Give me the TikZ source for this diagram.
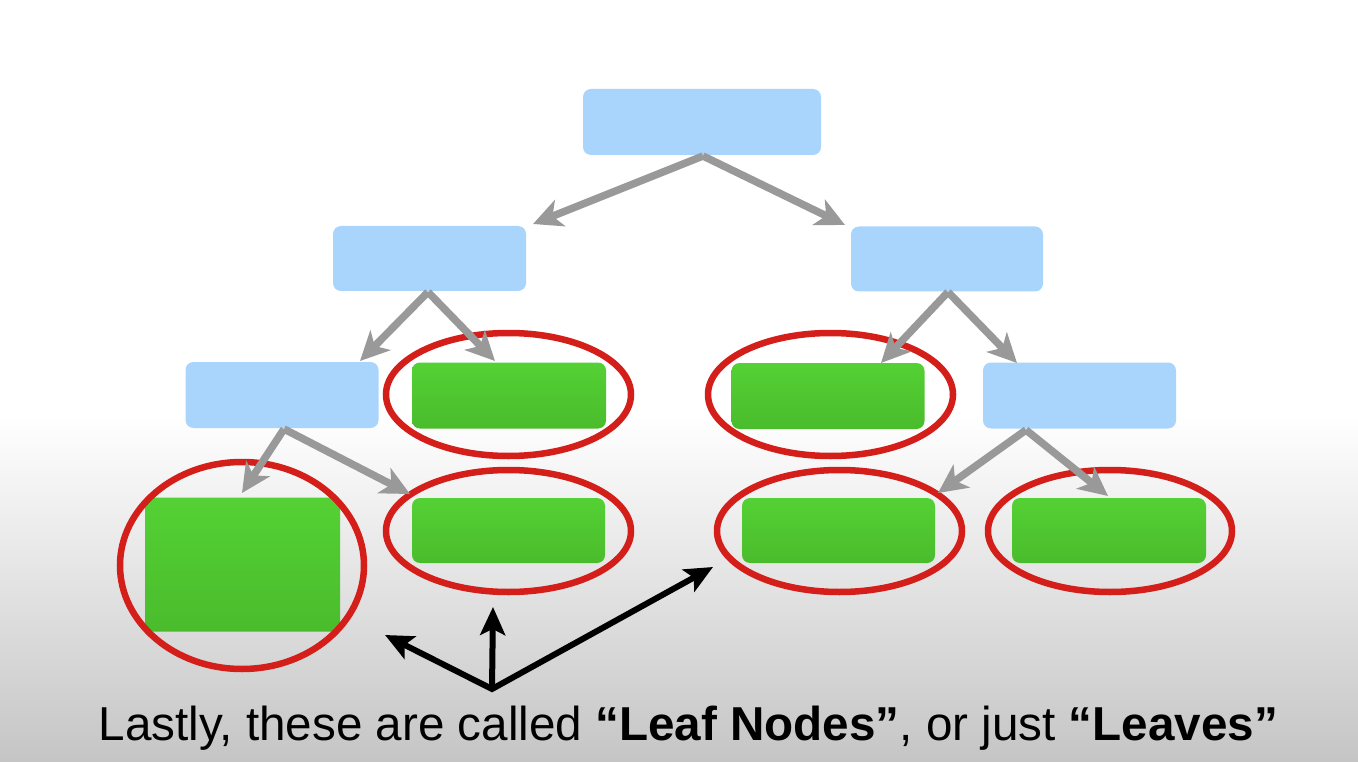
\documentclass[tikz,border=0pt]{standalone}
\usepackage{fontspec}
\setmainfont{Liberation Sans}
\usetikzlibrary{arrows.meta,shapes.geometric}
\definecolor{nodeblue}{RGB}{169,213,252}
\definecolor{leaftop}{RGB}{84,209,52}
\definecolor{leafbot}{RGB}{74,188,44}
\definecolor{ringred}{RGB}{212,30,26}
\definecolor{arrgray}{RGB}{153,153,153}
\definecolor{bggray}{RGB}{197,197,197}
\tikzset{
  inner/.style={draw=none, rounded corners=8pt, inner sep=0pt, minimum height=65pt},
  bluebox/.style={inner, fill=nodeblue},
  leafbox/.style={inner, top color=leaftop, bottom color=leafbot},
  ring/.style={ellipse, draw=ringred, line width=6.5pt, inner sep=0pt},
  grayarr/.style={draw=arrgray, line width=7.5pt, -{Stealth[length=29pt,width=28pt,inset=8pt]}},
  blackarr/.style={draw=black, line width=6pt, line join=miter},
  bhead/.tip={Stealth[length=28pt,width=25pt,inset=6pt]}
}
\begin{document}
\begin{tikzpicture}[x=1pt,y=-1pt]
\useasboundingbox (0,0) rectangle (1358,762);
\fill[white] (0,0) rectangle (1358,762);
\shade[top color=white, bottom color=bggray] (0,415) rectangle (1358,762);

% tree nodes
\node[bluebox, minimum width=238pt, minimum height=66pt] (root) at (702,122) {};
\node[bluebox, minimum width=193pt] (l1l) at (429.5,258.5) {};
\node[bluebox, minimum width=192pt] (l1r) at (947,259) {};
\node[bluebox, minimum width=193pt, minimum height=66pt] (l2l) at (282,395) {};
\node[leafbox, minimum width=194pt, minimum height=66pt] (g1) at (509,395.5) {};
\node[leafbox, minimum width=193pt, minimum height=66pt] (g2) at (828,396) {};
\node[bluebox, minimum width=193pt, minimum height=66pt] (l2r) at (1079.5,395.5) {};
\node[leafbox, minimum width=195pt, minimum height=134pt] (g3) at (242.5,564.5) {};
\node[leafbox, minimum width=193pt] (g4) at (508.5,530.5) {};
\node[leafbox, minimum width=193pt] (g5) at (838.5,530.5) {};
\node[leafbox, minimum width=194pt] (g6) at (1109,530.5) {};

% red rings
\node[ring, minimum width=244pt, minimum height=207pt] (r3) at (242,565.5) {};
\node[ring, minimum width=245pt, minimum height=123pt] (r1) at (508.5,394.5) {};
\node[ring, minimum width=245pt, minimum height=123pt] (r2) at (830.5,394.5) {};
\node[ring, minimum width=245pt, minimum height=122pt] (r4) at (508.5,531) {};
\node[ring, minimum width=245pt, minimum height=122pt] (r5) at (839.5,531) {};
\node[ring, minimum width=244pt, minimum height=122pt] (r6) at (1110,531) {};

% arrow end points
\coordinate (rootS) at (703,156);
\coordinate (t1) at (533,224);
\coordinate (t2) at (845,225);
\coordinate (l1lS) at (428,292);
\coordinate (t3) at (360,361);
\coordinate (t4) at (495,361);
\coordinate (l1rS) at (948,292);
\coordinate (t5) at (881,363);
\coordinate (t6) at (1017,363);
\coordinate (l2lS) at (284,429);
\coordinate (t7) at (242,493);
\coordinate (t8) at (410,494);
\coordinate (l2rS) at (1026,430);
\coordinate (t9) at (938,493);
\coordinate (t10) at (1108,496);

\draw[grayarr] (rootS) -- (t1);
\draw[grayarr] (rootS) -- (t2);
\draw[grayarr] (l1lS) -- (t3);
\draw[grayarr] (l1lS) -- (t4);
\draw[grayarr] (l1rS) -- (t5);
\draw[grayarr] (l1rS) -- (t6);
\draw[grayarr] (l2lS) -- (t7);
\draw[grayarr] (l2lS) -- (t8);
\draw[grayarr] (l2rS) -- (t9);
\draw[grayarr] (l2rS) -- (t10);

% black pointer arrows
\coordinate (bo) at (492,689);
\coordinate (bl) at (385,635);
\coordinate (bu) at (493,607);
\coordinate (br) at (713,567);
\draw[blackarr, bhead-bhead] (bl) -- (bo) -- (br);
\draw[blackarr, -bhead] (bo) -- (bu);

% caption
\node[font=\fontsize{47.6}{56}\selectfont, inner sep=0pt] (cap) at (688.5,728)
  {Lastly, these are called \textbf{“Leaf Nodes”}, or just \textbf{“Leaves”}};
\end{tikzpicture}
\end{document}
